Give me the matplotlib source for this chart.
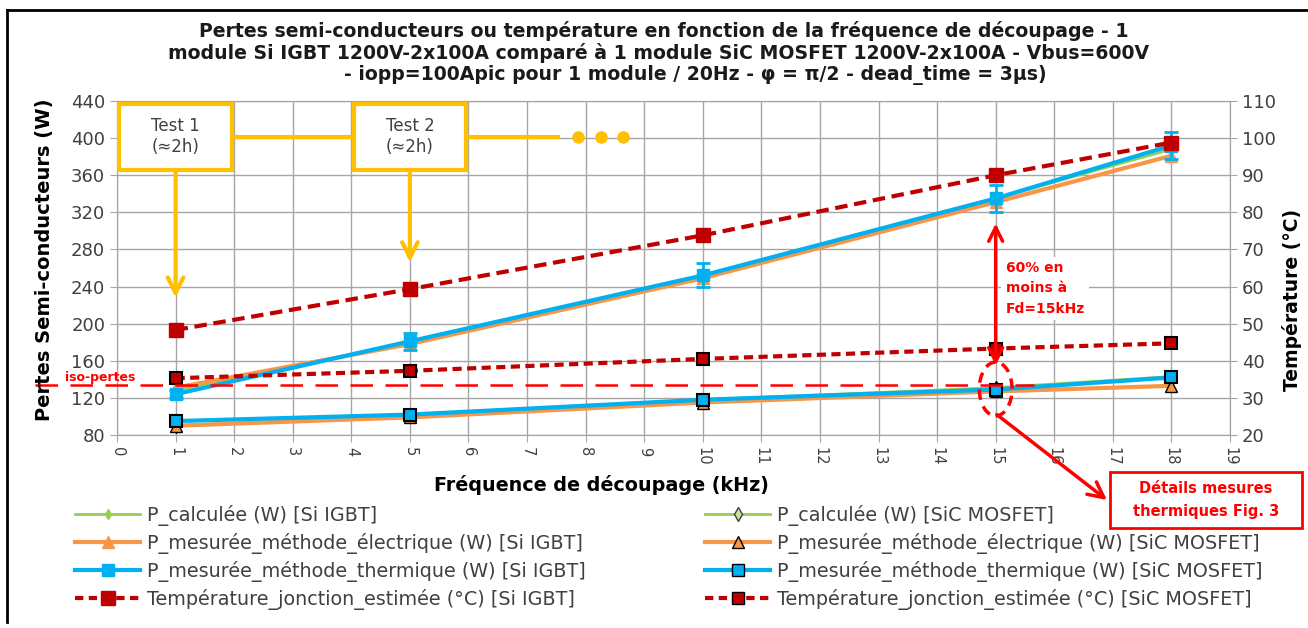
import numpy as np
import matplotlib
matplotlib.use("Agg")
import matplotlib.pyplot as plt
from matplotlib.patches import Rectangle, Ellipse
from matplotlib.lines import Line2D

# data
freq = [1, 5, 10, 15, 18]  # kHz

# Si IGBT (W)
igbt_calc = [128, 180, 251, 335, 388]
igbt_elec = [131, 178, 249, 331, 381]
igbt_therm = [124, 181, 252, 335, 392]
igbt_therm_err = [4, 9, 13, 15, 15]
igbt_temp = [48.3, 59.3, 73.8, 90.0, 98.8]  # degC

# SiC MOSFET (W)
sic_calc = [90, 101, 118, 131, 143]
sic_elec = [90, 99, 115, 127, 133]
sic_therm = [95, 102, 118, 129, 142]
sic_therm_err = [3, 3, 3, 4, 4]
sic_temp = [35.3, 37.3, 40.5, 43.3, 44.7]  # degC

iso_pertes = 134
tests = [1, 5]
test_labels = ["Test 1\n(≈2h)", "Test 2\n(≈2h)"]

title_lines = [
    "Pertes semi-conducteurs ou température en fonction de la fréquence de découpage - 1",
    "module Si IGBT 1200V-2x100A comparé à 1 module SiC MOSFET 1200V-2x100A - Vbus=600V",
    "- iopp=100Apic pour 1 module / 20Hz - φ = π/2 - dead_time = 3µs)",
]

GREEN = "#92D050"
ORANGE = "#F79646"
BLUE = "#00B0F0"
DARKRED = "#C00000"
YELLOW = "#FFC000"
RED = "#FF0000"
GRID = "#A6A6A6"
TXT = "#404040"

W, H = 1308, 628
fig = plt.figure(figsize=(W / 100, H / 100), dpi=100)
ax = fig.add_axes([117 / W, 1 - 435 / H, 1113 / W, 334 / H])
ax2 = ax.twinx()

# power series
ax.plot(freq, igbt_calc, color=GREEN, lw=2, marker="d", ms=4, zorder=3)
ax.plot(freq, igbt_elec, color=ORANGE, lw=3, marker="^", ms=9, zorder=3)
ax.errorbar(freq, igbt_therm, yerr=igbt_therm_err, color=BLUE, lw=3, marker="s", ms=9,
            capsize=5, capthick=2, elinewidth=2, zorder=4)
ax.plot(freq, sic_calc, color=GREEN, lw=2, marker="d", ms=7, mfc="#C4E59F", mec="black", zorder=3)
ax.plot(freq, sic_elec, color=ORANGE, lw=3, marker="^", ms=8, mec="black", zorder=3)
ax.errorbar(freq, sic_therm, yerr=sic_therm_err, color=BLUE, lw=3, marker="s", ms=9,
            mec="black", mew=1.5, capsize=4, capthick=2, elinewidth=2, zorder=4)

# temperature series
ax2.plot(freq, igbt_temp, color=DARKRED, lw=3, ls=(0, (3, 1.6)), marker="s", ms=10)
ax2.plot(freq, sic_temp, color=DARKRED, lw=3, ls=(0, (2.2, 1.3)), marker="s", ms=9,
         mec="black", mew=1.5)

ax.set_xlim(0, 19)
ax.set_ylim(80, 440)
ax2.set_ylim(20, 110)
ax.set_xticks(range(0, 20))
ax.set_yticks(range(80, 441, 40))
ax2.set_yticks(range(20, 111, 10))
ax.grid(True, color=GRID, lw=1)
ax.set_axisbelow(True)
for a in (ax, ax2):
    for s in a.spines.values():
        s.set_color(GRID)
    a.tick_params(colors=GRID, labelcolor=TXT, labelsize=13, length=5)
ax.tick_params(axis="x", labelsize=10.5, labelrotation=-90)

fig.text(601 / W, 1 - 485 / H, "Fréquence de découpage (kHz)", ha="center", va="center",
         fontsize=13.8, fontweight="bold")
fig.text(45 / W, 1 - 260 / H, "Pertes Semi-conducteurs (W)", ha="center", va="center",
         rotation=90, fontsize=14, fontweight="bold")
fig.text(1292 / W, 1 - 300 / H, "Température (°C)", ha="center", va="center",
         rotation=90, fontsize=13.5, fontweight="bold")

for line, xc, yc in zip(title_lines, [664, 659, 695], [31, 53, 75]):
    fig.text(xc / W, 1 - yc / H, line, ha="center", va="center", fontsize=13.6,
             fontweight="bold", color="#1a1a1a")

# annotations, drawn in the power axis coordinates on the top axes
tr = ax.transData
for xt, lab, tip in zip(tests, test_labels, [228, 266]):
    ax2.add_patch(Rectangle((xt - 0.96, 366), 1.92, 71, transform=tr, fill=True,
                            fc="white", ec=YELLOW, lw=3, clip_on=False, zorder=6))
    ax2.text(xt, 401.5, lab, transform=tr, ha="center", va="center", fontsize=12,
             color=TXT, zorder=7)
    ax2.annotate("", xy=(xt, tip), xytext=(xt, 366), xycoords=tr, textcoords=tr,
                 arrowprops=dict(arrowstyle="->", color=YELLOW, lw=3, mutation_scale=28,
                                 shrinkA=0, shrinkB=0), zorder=6)
ax2.plot([1.96, 4.04], [401, 401], transform=tr, color=YELLOW, lw=3, zorder=5)
ax2.plot([5.96, 7.53], [401, 401], transform=tr, color=YELLOW, lw=3, zorder=5)
ax2.plot([7.87, 8.27, 8.64], [401, 401, 401], transform=tr, color=YELLOW, ls="none",
         marker="o", ms=8, zorder=5)

# iso-pertes line
ax2.plot([-1.4, 15.65], [iso_pertes, iso_pertes], transform=tr, color=RED, lw=1.8,
         dashes=(9, 5), clip_on=False, zorder=5)
ax2.text(-0.89, 142.5, "iso-pertes", transform=tr, color=RED, fontsize=9,
         fontweight="bold", ha="left", va="center", zorder=7)

# 60% arrow
ax2.annotate("", xy=(15, 308), xytext=(15, 155), xycoords=tr, textcoords=tr,
             arrowprops=dict(arrowstyle="<->", color=RED, lw=2.5, mutation_scale=25,
                             shrinkA=0, shrinkB=0), zorder=6)
ax2.text(15.17, 238, "60% en\nmoins à\nFd=15kHz", transform=tr, color=RED, fontsize=10,
         fontweight="bold", ha="left", va="center", linespacing=1.6,
         bbox=dict(fc="white", ec="none", pad=3), zorder=6)

# ellipse and callout
ax2.add_patch(Ellipse((15, 129.6), 0.56, 58, transform=tr, fill=False, ec=RED, lw=2.5,
                      ls=(0, (3, 2)), zorder=6))
ax2.annotate("", xy=(1107 / W, 1 - 500 / H), xytext=(15.02, 102), xycoords="figure fraction",
             textcoords=tr, annotation_clip=False,
             arrowprops=dict(arrowstyle="->", color=RED, lw=2.5, mutation_scale=28,
                             shrinkA=0, shrinkB=0), zorder=6)
fig.patches.append(Rectangle((1110 / W, 1 - 528 / H), 192 / W, 56 / H, transform=fig.transFigure,
                             fill=True, fc="white", ec=RED, lw=2))
fig.text(1206 / W, 1 - 500 / H, "Détails mesures\nthermiques Fig. 3", ha="center", va="center",
         color=RED, fontsize=10.5, fontweight="bold", linespacing=1.6)

# legend
h_igbt = [
    Line2D([], [], color=GREEN, lw=2, marker="d", ms=5),
    Line2D([], [], color=ORANGE, lw=3, marker="^", ms=9),
    Line2D([], [], color=BLUE, lw=3, marker="s", ms=9),
    Line2D([], [], color=DARKRED, lw=3, ls=(0, (2, 1.3)), marker="s", ms=10),
]
h_sic = [
    Line2D([], [], color=GREEN, lw=2, marker="d", ms=7, mfc="#C4E59F", mec="#404040"),
    Line2D([], [], color=ORANGE, lw=3, marker="^", ms=8, mec="black"),
    Line2D([], [], color=BLUE, lw=3, marker="s", ms=9, mec="black"),
    Line2D([], [], color=DARKRED, lw=3, ls=(0, (2, 1.3)), marker="s", ms=9, mec="black"),
]
lab_igbt = ["P_calculée (W) [Si IGBT]", "P_mesurée_méthode_électrique (W) [Si IGBT]",
            "P_mesurée_méthode_thermique (W) [Si IGBT]", "Température_jonction_estimée (°C) [Si IGBT]"]
lab_sic = ["P_calculée (W) [SiC MOSFET]", "P_mesurée_méthode_électrique (W) [SiC MOSFET]",
           "P_mesurée_méthode_thermique (W) [SiC MOSFET]",
           "Température_jonction_estimée (°C) [SiC MOSFET]"]
for hs, ls_, x0 in [(h_igbt, lab_igbt, 75), (h_sic, lab_sic, 705)]:
    leg = fig.legend(hs, ls_, loc="upper left", bbox_to_anchor=(x0 / W, 1 - 505 / H),
                     frameon=False, fontsize=13.8, handlelength=3.4, handletextpad=0.36,
                     labelspacing=0.36, borderpad=0, borderaxespad=0)
    for t in leg.get_texts():
        t.set_color(TXT)

# outer frame (top and left)
fig.add_artist(Line2D([7 / W, 1], [1 - 10 / H, 1 - 10 / H], transform=fig.transFigure,
                      color="black", lw=2))
fig.add_artist(Line2D([7 / W, 7 / W], [1 - 10 / H, 1 - 622 / H], transform=fig.transFigure,
                      color="black", lw=2))

fig.savefig("out.png", dpi=100)
